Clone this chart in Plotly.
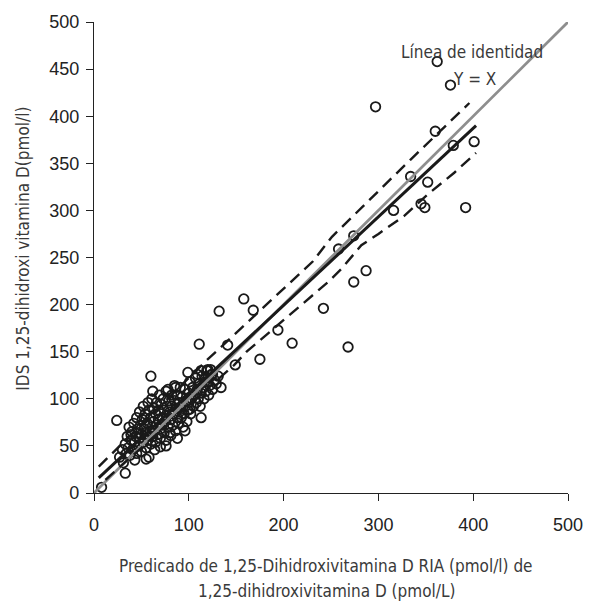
import plotly.graph_objects as go

# ---------------- data ----------------
pred_x = [8, 33, 24, 43, 55, 60, 62, 78, 86, 99, 109, 120, 113, 123, 111, 141, 149, 134, 175,
          158, 132, 168, 194, 209, 242, 268, 101, 113, 81, 70, 119, 125,
          258, 274, 274, 287, 297, 316, 334, 345, 349, 352, 360, 362, 376, 379, 392, 401,
          27, 30, 31, 33, 34, 35, 36, 37, 38, 39, 40, 41, 42, 43, 44, 45, 45, 46, 47, 48,
          48, 49, 50, 50, 51, 52, 52, 53, 54, 55, 55, 56, 57, 57, 58, 59, 60, 60, 61, 61,
          62, 63, 63, 64, 65, 65, 66, 66, 67, 68, 68, 69, 70, 70, 71, 72, 72, 73, 74, 74,
          75, 76, 76, 77, 77, 78, 79, 80, 80, 81, 82, 82, 83, 84, 85, 85, 86, 87, 88, 88,
          89, 90, 90, 91, 92, 93, 94, 94, 95, 96, 97, 98, 99, 100, 100, 101, 102, 103, 104, 105,
          106, 107, 108, 109, 110, 111, 112, 113, 114, 115, 116, 117, 118, 120, 121, 122, 124, 125, 127, 129,
          131, 96, 88, 76, 64, 58, 47, 39, 53]
ids_y = [6, 21, 77, 35, 36, 124, 108, 110, 112, 128, 126, 131, 130, 131, 158, 157, 136, 112, 142,
         206, 193, 194, 173, 159, 196, 155, 89, 80, 61, 49, 130, 126,
         259, 273, 224, 236, 410, 300, 336, 307, 303, 330, 384, 458, 433, 369, 303, 373,
         38, 46, 32, 52, 42, 60, 48, 70, 40, 56, 65, 46, 74, 54, 60, 42, 80, 68, 50, 58,
         86, 72, 44, 62, 78, 54, 92, 68, 84, 48, 62, 74, 96, 56, 88, 66, 80, 52, 70, 100,
         60, 90, 76, 66, 84, 54, 96, 72, 62, 88, 78, 104, 68, 58, 94, 80, 72, 100, 64, 88,
         76, 108, 56, 92, 82, 70, 98, 86, 64, 78, 104, 92, 72, 84, 114, 98, 66, 90, 80, 104,
         74, 96, 86, 112, 80, 102, 70, 92, 84, 110, 98, 76, 88, 106, 96, 118, 84, 100, 112, 92,
         104, 122, 96, 110, 100, 116, 92, 106, 124, 112, 100, 118, 108, 122, 104, 114, 126, 110, 120, 116,
         124, 66, 58, 50, 46, 38, 64, 62, 80]

identity_x = [0, 500]
identity_y = [0, 500]
reg_x = [5, 403]
reg_y = [16, 390]
upper_x = [5, 118, 231, 251, 334, 396]
upper_y = [28, 140, 246, 272, 354, 414]
lower_x = [12, 148, 161, 247, 261, 282, 300, 327, 352, 380, 403]
lower_y = [14, 136, 150, 224, 238, 263, 275, 294, 317, 340, 361]

x_ticks = [0, 100, 200, 300, 400, 500]
y_ticks = [0, 50, 100, 150, 200, 250, 300, 350, 400, 450, 500]

TITLE_FONT = "Liberation Sans Narrow, DejaVu Sans Condensed, Roboto, sans-serif"
TICK_FONT = "Liberation Sans, Arial, sans-serif"
TXT = dict(family=TITLE_FONT, size=17, color="#3a3a3a")

fig = go.Figure()
fig.add_trace(go.Scatter(x=pred_x, y=ids_y, mode="markers",
                         marker=dict(symbol="circle-open", size=9.5, color="#1a1a1a",
                                     line=dict(width=1.8, color="#1a1a1a")),
                         showlegend=False, cliponaxis=False))
fig.add_trace(go.Scatter(x=identity_x, y=identity_y, mode="lines",
                         line=dict(color="#8e8e8e", width=2.8), showlegend=False))
fig.add_trace(go.Scatter(x=upper_x, y=upper_y, mode="lines",
                         line=dict(color="#1a1a1a", width=2.4, dash="12px,7px"), showlegend=False))
fig.add_trace(go.Scatter(x=lower_x, y=lower_y, mode="lines",
                         line=dict(color="#1a1a1a", width=2.4, dash="12px,7px"), showlegend=False))
fig.add_trace(go.Scatter(x=reg_x, y=reg_y, mode="lines",
                         line=dict(color="#1a1a1a", width=3), showlegend=False))

axis_common = dict(showgrid=False, zeroline=False, showline=True, linecolor="#222",
                   linewidth=1.3, ticks="outside", ticklen=7, tickwidth=1.3,
                   tickcolor="#222", tickfont=dict(family=TICK_FONT, size=18, color="#222"))
fig.update_xaxes(range=[0, 500], tickvals=x_ticks, ticklabelstandoff=8, **axis_common)
fig.update_yaxes(range=[0, 500], tickvals=y_ticks, ticklabelstandoff=3, **axis_common)

fig.add_annotation(x=399, y=468, xref="x", yref="y", text="Línea de identidad",
                   xanchor="center", yanchor="middle", showarrow=False, font=TXT)
fig.add_annotation(x=401, y=440, xref="x", yref="y", text="Y = X",
                   xanchor="center", yanchor="middle", showarrow=False, font=TXT)

fig.add_annotation(x=0.49, y=-0.156, xref="paper", yref="paper",
                   text="Predicado de 1,25-Dihidroxivitamina D RIA (pmol/l) de",
                   xanchor="center", yanchor="middle", showarrow=False, font=TXT)
fig.add_annotation(x=0.49, y=-0.209, xref="paper", yref="paper",
                   text="1,25-dihidroxivitamina D (pmol/L)",
                   xanchor="center", yanchor="middle", showarrow=False, font=TXT)
fig.add_annotation(x=-0.1506, y=0.518, xref="paper", yref="paper",
                   text="IDS 1,25-dihidroxi vitamina D(pmol/l)", textangle=-90,
                   xanchor="center", yanchor="middle", showarrow=False, font=TXT)

fig.update_layout(width=595, height=603, margin=dict(l=94, r=23, t=18, b=110),
                  paper_bgcolor="white", plot_bgcolor="white")

# remove the page's default 8px body margin so the figure fills the window exactly
fig.write_html("out.html", config={"displayModeBar": False},
               post_script="document.body.style.margin='0';document.body.style.overflow='hidden';")
